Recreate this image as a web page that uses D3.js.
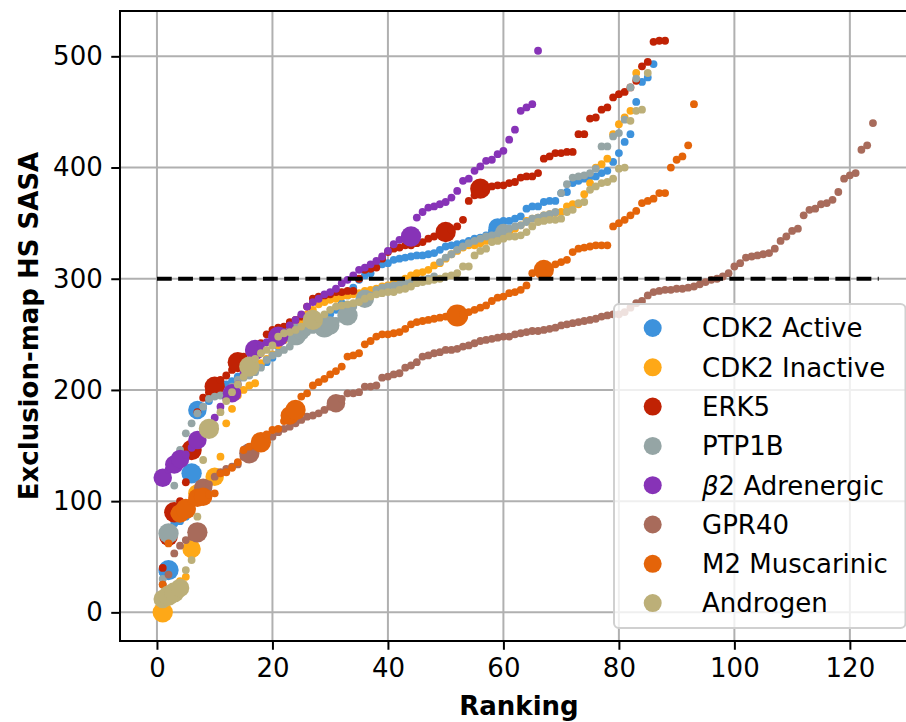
<!DOCTYPE html>
<html><head><meta charset="utf-8">
<script src="https://cdn.jsdelivr.net/npm/d3@7/dist/d3.min.js"></script>
<style>body{margin:0;background:#fff}svg{display:block}</style>
</head><body>
<svg id="chart" width="906" height="722"></svg>
<script>
// ---------------- data ----------------
const seriesNames = ["CDK2 Active","CDK2 Inactive","ERK5","PTP1B","β2 Adrenergic","GPR40","M2 Muscarinic","Androgen"];
const xTicks = [0,20,40,60,80,100,120];
const yTicks = [0,100,200,300,400,500];
const thresholdValue = 300;
const thresholdRange = [0,125];

const cdk2Active = [36,38,80,82,86,125,182,185,190,195, 200,205,208,212,215,218,220,222,225,229,
  239,245,250,255,258,260,262,264,266,268, 272,278,285,292,299,303,305,312,313,314,
  317,318,319,320,321,321,322,323,326,329, 330,331,332,334,336,337,339,343,346,352,
  352,354,356,363,365,365,369,370,370,377, 378,386,388,390,392,392,395,397,405,413,
  423,430,459,477,481,493];
const cdk2ActiveBig = [[2,6],[6,6],[7,5],[59,5]];

const cdk2Inactive = [0,10,20,28,32,57,107,112,118,122, 140,170,183,195,200,204,206,224,228,232,
  240,245,250,255,262,268,272,277,279,281, 282,284,285,286,287,289,290,291,293,294,
  296,297,300,303,305,306,308,312,314,318, 322,325,328,330,330,332,334,336,338,340,
  342,345,348,352,354,355,357,358,359,360, 365,367,367,376,386,400,403,408,430,439,
  445,451,485];
const cdk2InactiveBig = [[1,6],[6,5],[7,5],[10,5]];

const erk5 = [40,68,90,100,117,146,180,193,198,203, 209,213,218,225,230,235,238,242,250,254,
  256,257,261,263,266,275,282,284,285,286, 288,288,289,289,300,308,309,310,318,324,
  327,328,330,330,332,333,336,338,340,342, 344,347,353,370,375,381,381,383,384,384,
  386,387,391,392,392,395,408,410,413,413, 414,414,430,430,444,445,452,454,463,466,
  468,472,478,491,495,513,514,514];
const erk5Big = [[2,5],[3,6],[6,6],[10,6],[14,6],[50,6],[56,6]];

const ptp1b = [30,71,114,146,161,170,179,185,192,194, 195,197,203,209,211,213,216,220,227,231,
  233,236,239,250,252,252,254,255,257,258, 262,265,267,275,280,282,285,290,292,293,
  294,295,296,297,298,299,300,302,315,319, 322,326,329,332,334,336,338,339,340,342,
  345,347,348,351,354,355,357,358,360,377, 385,391,392,393,395,399,419,419,428,431,
  443,472,480];
const ptp1bBig = [[2,6],[24,7],[25,4],[29,7],[30,5],[33,6],[36,5],[60,4]];

const beta2 = [121,128,133,138,142,148,155,165,170,175, 185,192,197,205,215,225,236,240,243,246,
  248,252,258,263,268,275,279,282,286,288, 291,296,299,303,308,310,313,316,320,325,
  331,335,336,338,355,360,364,365,367,369, 373,379,388,390,397,401,406,407,412,415,
  425,434,451,454,457,505];
const beta2Big = [[1,5],[3,5],[4,5],[7,5],[13,5],[17,6],[21,6],[44,6]];

const gpr40 = [25,34,53,60,65,68,72,112,115,122, 126,129,131,133,140,143,148,151,155,158,
  162,165,167,170,173,176,177,179,182,185, 188,192,197,197,198,203,203,204,211,212,
  214,215,220,222,225,230,231,233,234,236, 236,237,239,240,242,244,245,246,247,248,
  248,250,251,252,253,253,254,255,256,258, 259,260,261,262,263,264,266,267,268,268,
  270,274,278,280,285,288,289,290,290,291, 291,292,293,295,297,299,300,302,305,311,
  314,319,320,321,322,323,327,334,338,343, 345,357,362,363,367,368,371,378,390,393,
  395,416,420,440];
const gpr40Big = [[7,6],[8,5],[16,6],[31,5]];

const m2Muscarinic = [25,62,89,89,93,100,103,104,106,107, 125,126,130,135,146,149,150,153,160,164,
  165,172,177,182,194,197,204,207,210,214, 217,221,230,231,233,241,244,248,250,250,
  251,252,255,259,261,262,263,264,265,266, 266,267,268,270,272,274,276,280,283,284,
  287,288,290,294,305,306,308,310,313,315, 317,324,327,328,329,330,330,330,347,350,
  353,357,361,368,370,372,377,377,400,407, 410,420,457];
const m2MuscarinicBig = [[4,5],[5,6],[7,5],[8,5],[18,6],[23,5],[24,6],[52,7],[67,6]];

const androgen = [12,15,18,22,38,47,86,137,165,168, 180,190,198,205,212,221,228,233,236,240,
  248,251,252,254,257,260,263,264,268,272, 275,276,277,278,279,282,284,286,287,288,
  288,290,291,293,296,297,298,299,300,302, 303,305,311,311,321,325,327,333,334,336,
  338,338,339,342,347,351,352,353,353,354, 360,362,368,369,380,383,386,387,390,399,
  400,442,451,452,485];
const androgenBig = [[1,5],[2,6],[3,6],[4,5],[9,6],[16,6],[27,6]];

const seriesValues = [cdk2Active,cdk2Inactive,erk5,ptp1b,beta2,gpr40,m2Muscarinic,androgen];
const seriesBig = [cdk2ActiveBig,cdk2InactiveBig,erk5Big,ptp1bBig,beta2Big,gpr40Big,m2MuscarinicBig,androgenBig];

// ---------------- style ----------------
const colors = ["#3d92dc","#fea817","#c02204","#95a5a5","#8733b7","#a86b5b","#e46409","#bcaf78"];
const FONT = "'DejaVu Sans', sans-serif";
const FS = 26;

(function draw(){
const svg = d3.select("#chart");
const pL = 120, pR = 918, pT = 11, pB = 641;
const x = d3.scaleLinear().domain([-6.4, 131.8]).range([pL, pR]);
const y = d3.scaleLinear().domain([-25.75, 540.75]).range([pB, pT]);
const r = d3.scaleSqrt().domain([1, 8]).range([3.9, 11.8]);

svg.append("defs").append("clipPath").attr("id","clip")
  .append("rect").attr("x",pL).attr("y",pT).attr("width",pR-pL).attr("height",pB-pT);

// grid
const grid = svg.append("g");
grid.selectAll("line.gx").data(xTicks).join("line").attr("class","gx")
  .attr("x1",d=>x(d)).attr("x2",d=>x(d)).attr("y1",pT).attr("y2",pB)
  .attr("stroke","#b0b0b0").attr("stroke-width",2);
grid.selectAll("line.gy").data(yTicks).join("line").attr("class","gy")
  .attr("y1",d=>y(d)).attr("y2",d=>y(d)).attr("x1",pL).attr("x2",pR)
  .attr("stroke","#b0b0b0").attr("stroke-width",2);

// points
const plot = svg.append("g").attr("clip-path","url(#clip)");
seriesValues.forEach((vals, si) => {
  const bigMap = new Map(seriesBig[si]);
  const pts = vals.map((v,i)=>({rank:i+1, value:v, w: bigMap.get(i+1) || 1}));
  plot.append("g").selectAll("circle").data(pts).join("circle")
    .attr("cx",d=>x(d.rank)).attr("cy",d=>y(d.value)).attr("r",d=>r(d.w))
    .attr("fill",colors[si]);
});

// threshold
plot.append("line")
  .attr("x1",x(thresholdRange[0])).attr("x2",x(thresholdRange[1]))
  .attr("y1",y(thresholdValue)).attr("y2",y(thresholdValue))
  .attr("stroke","#000").attr("stroke-width",4).attr("stroke-dasharray","14.8,6.4");

// axes
const xAxis = svg.append("g").attr("transform",`translate(0,${pB})`)
  .call(d3.axisBottom(x).tickValues(xTicks).tickSize(8.75).tickPadding(8.5).tickSizeOuter(0));
const yAxis = svg.append("g").attr("transform",`translate(${pL},0)`)
  .call(d3.axisLeft(y).tickValues(yTicks).tickSize(8.75).tickPadding(8.5).tickSizeOuter(0));
[xAxis,yAxis].forEach(a=>{
  a.select(".domain").remove();
  a.selectAll(".tick line").attr("stroke","#000").attr("stroke-width",2);
  a.selectAll(".tick text").attr("fill","#000").style("font-family",FONT).style("font-size",FS+"px");
});
// spines
svg.append("rect").attr("x",pL).attr("y",pT).attr("width",pR-pL).attr("height",pB-pT)
  .attr("fill","none").attr("stroke","#000").attr("stroke-width",2);

// labels
svg.append("text").attr("x",(pL+pR)/2).attr("y",715).attr("text-anchor","middle")
  .style("font-family",FONT).style("font-size",FS+"px").style("font-weight","bold").text("Ranking");
svg.append("text").attr("transform",`translate(38,${(pT+pB)/2}) rotate(-90)`).attr("text-anchor","middle")
  .style("font-family",FONT).style("font-size",FS+"px").style("font-weight","bold").text("Exclusion-map HS SASA");

// legend
const lg = svg.append("g");
lg.append("rect").attr("x",614).attr("y",304).attr("width",291.5).attr("height",324).attr("rx",5)
  .attr("fill","#fff").attr("fill-opacity",0.8).attr("stroke","#d0d0d0").attr("stroke-width",2);
seriesNames.forEach((name,i)=>{
  const cy = 328 + i*39.3;
  lg.append("circle").attr("cx",652.7).attr("cy",cy).attr("r",9).attr("fill",colors[i]);
  const t = lg.append("text").attr("x",702).attr("y",cy).attr("dy","0.36em")
    .style("font-family",FONT).style("font-size",FS+"px").attr("fill","#000");
  if (name.startsWith("β")) {
    t.append("tspan").style("font-style","italic").text("β");
    t.append("tspan").text(name.slice(1));
  } else t.text(name);
});
})();
</script>
</body></html>
